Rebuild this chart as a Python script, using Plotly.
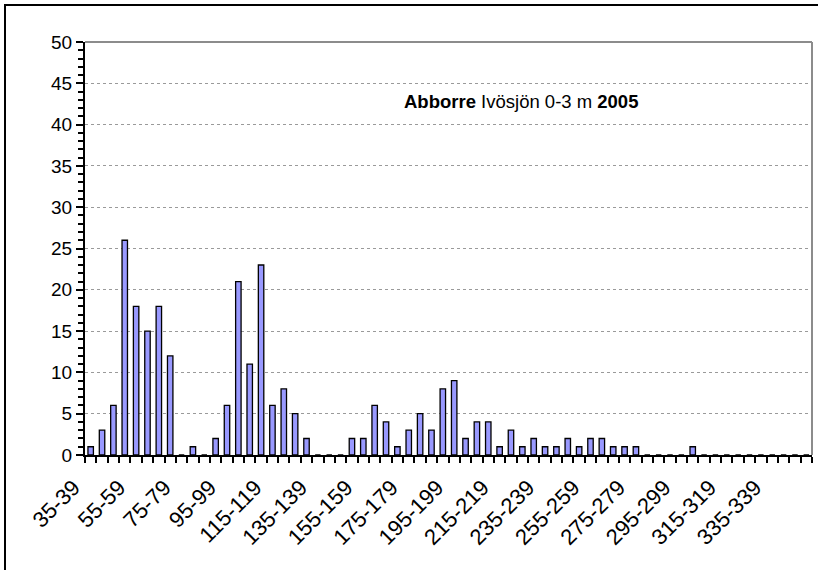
import plotly.graph_objects as go

# length classes (mm), 5 mm bins from 35-39 to 350-354
categories = [f"{s}-{s+4}" for s in range(35, 355, 5)]
counts = [1, 3, 6, 26, 18, 15, 18, 12, 0, 1,
          0, 2, 6, 21, 11, 23, 6, 8, 5, 2,
          0, 0, 0, 2, 2, 6, 4, 1, 3, 5,
          3, 8, 9, 2, 4, 4, 1, 3, 1, 2,
          1, 1, 2, 1, 2, 2, 1, 1, 1, 0,
          0, 0, 0, 1, 0, 0, 0, 0, 0, 0,
          0, 0, 0, 0]
label_step = 4
xpos = list(range(len(categories)))
tick_idx = xpos[::label_step][:16]
tick_text = [categories[i] for i in tick_idx]

FONT = "Liberation Sans, Arial, sans-serif"

fig = go.Figure()
fig.add_trace(go.Bar(
    x=xpos, y=counts,
    marker=dict(color="#9999FF", line=dict(color="black", width=1.3)),
    width=0.48,
    hoverinfo="skip",
))

W, H = 818, 570
ml, mr, mt, mb = 85, 6, 42, 115
pw, ph = W - ml - mr, H - mt - mb

fig.update_layout(
    width=W, height=H,
    margin=dict(l=ml, r=mr, t=mt, b=mb),
    paper_bgcolor="white", plot_bgcolor="white",
    showlegend=False,
    font=dict(family=FONT, size=19, color="black"),
    xaxis=dict(
        range=[-0.5, len(categories) - 0.5], automargin=False,
        tickmode="array", tickvals=tick_idx, ticktext=tick_text,
        tickangle=-45, ticks="", showgrid=False, zeroline=False,
        showline=True, linecolor="black", linewidth=2,
        tickfont=dict(family=FONT, size=22),
        ticklabelstandoff=9, ticklabelshift=-17,
        minor=dict(tickmode="linear", tick0=-0.5, dtick=1, ticks="outside",
                   ticklen=6, tickwidth=2, tickcolor="black", showgrid=False),
    ),
    yaxis=dict(
        range=[0, 50], tickmode="linear", tick0=0, dtick=5, automargin=False,
        ticks="outside", ticklen=7, tickwidth=2, tickcolor="black",
        showline=True, linecolor="black", linewidth=2,
        showgrid=True, gridcolor="#9a9a9a", griddash="dot", gridwidth=1,
        zeroline=False,
        tickfont=dict(family=FONT, size=19),
        minor=dict(tickmode="linear", tick0=0, dtick=1, ticks="outside",
                   ticklen=5, tickwidth=2, tickcolor="black", showgrid=False),
    ),
    shapes=[
        # gray top and right plot border
        dict(type="line", xref="paper", yref="paper", x0=0, x1=1, y0=1, y1=1,
             line=dict(color="#8c8c8c", width=2)),
        dict(type="line", xref="paper", yref="paper", x0=1, x1=1, y0=0, y1=1,
             line=dict(color="#8c8c8c", width=2)),
        # outer chart border
        dict(type="rect", xref="paper", yref="paper",
             x0=(5 - ml) / pw, x1=1.2, y0=-0.5, y1=1 + (mt - 5) / ph,
             line=dict(color="black", width=2), fillcolor="rgba(0,0,0,0)",
             layer="above"),
    ],
    annotations=[
        dict(xref="paper", yref="paper", x=(521 - ml) / pw, y=(H - mb - 102) / ph,
             text="<b>Abborre</b> Ivösjön 0-3 m <b>2005</b>", showarrow=False,
             xanchor="center", yanchor="middle",
             font=dict(family=FONT, size=18.5, color="black")),
    ],
)

fig.write_html("out.html", config={"displayModeBar": False},
               post_script="document.body.style.margin='0';")
